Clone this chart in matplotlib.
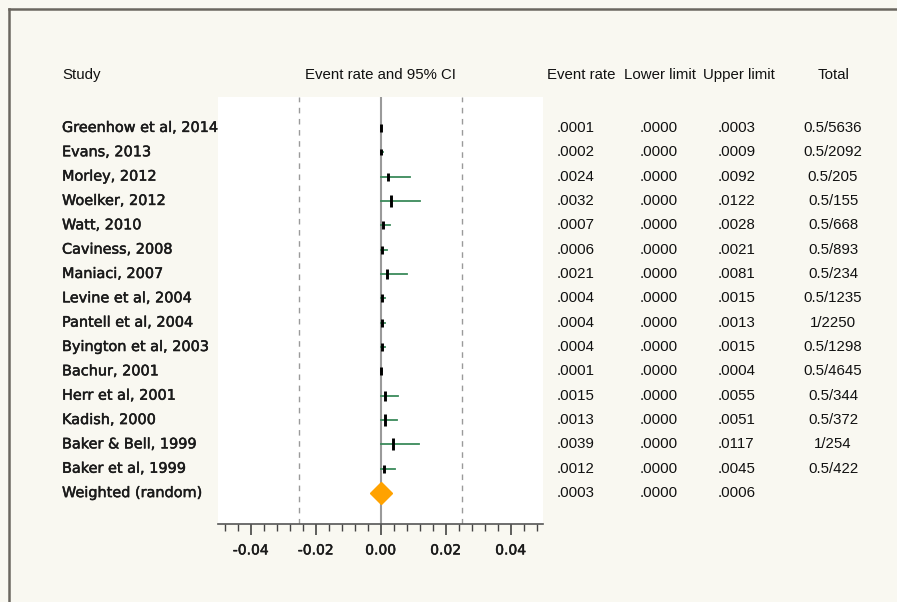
import matplotlib
matplotlib.use("Agg")
import matplotlib.pyplot as plt
import matplotlib.patheffects as pe
from matplotlib.ticker import MultipleLocator, FormatStrFormatter
from matplotlib.transforms import blended_transform_factory

plt.rcParams['axes.unicode_minus'] = False

# data
studies = ["Greenhow et al, 2014", "Evans, 2013", "Morley, 2012", "Woelker, 2012",
           "Watt, 2010", "Caviness, 2008", "Maniaci, 2007", "Levine et al, 2004",
           "Pantell et al, 2004", "Byington et al, 2003", "Bachur, 2001",
           "Herr et al, 2001", "Kadish, 2000", "Baker & Bell, 1999", "Baker et al, 1999"]
event_rate = [0.0001, 0.0002, 0.0024, 0.0032, 0.0007, 0.0006, 0.0021, 0.0004,
              0.0004, 0.0004, 0.0001, 0.0015, 0.0013, 0.0039, 0.0012]
lower = [0.0] * 15
upper = [0.0003, 0.0009, 0.0092, 0.0122, 0.0028, 0.0021, 0.0081, 0.0015,
         0.0013, 0.0015, 0.0004, 0.0055, 0.0051, 0.0117, 0.0045]
totals = ["0.5/5636", "0.5/2092", "0.5/205", "0.5/155", "0.5/668", "0.5/893",
          "0.5/234", "0.5/1235", "1/2250", "0.5/1298", "0.5/4645", "0.5/344",
          "0.5/372", "1/254", "0.5/422"]
pooled_label = "Weighted (random)"
pooled = (0.0003, 0.0000, 0.0006)

# box heights roughly follow study weight
box_h = [6, 5, 6, 8, 6, 6, 7, 6, 6, 6, 6, 7, 8, 8, 6]

bg = "#f9f8f1"
fig = plt.figure(figsize=(8.97, 6.02), dpi=100, facecolor=bg)

# frame lines at top and left like the screenshot
fig.add_artist(plt.Line2D([8.5/897, 8.5/897], [0, 1 - 8.5/602], color="#6b6760", lw=1.8))
fig.add_artist(plt.Line2D([8.5/897, 1], [1 - 8.5/602, 1 - 8.5/602], color="#6b6760", lw=1.8))

ax = fig.add_axes([218/897, 1 - 524/602, 325/897, 427/602])
ax.set_facecolor("white")
ax.set_xlim(-0.05, 0.05)
ax.set_ylim(16.27, -1.27)

n = len(studies)
ax.axvline(0, color="#9a9a9a", lw=1.5, zorder=1)
for x in (-0.025, 0.025):
    ax.axvline(x, color="#9a9a9a", lw=1, ls=(0, (4, 4)), zorder=1)

for i in range(n):
    ax.plot([lower[i], upper[i]], [i, i], color="#3a8a5a", lw=1.3, zorder=2)
    ax.plot(event_rate[i], i, marker="|", ms=box_h[i], mew=2.1, color="black", zorder=3)

ax.plot(pooled[0], n, marker="D", ms=11, color="#ffa200", mec="#ffa200", zorder=4)

for s in ("left", "top", "right"):
    ax.spines[s].set_visible(False)
ax.spines["bottom"].set_color("#555555")
ax.spines["bottom"].set_linewidth(1.2)
ax.set_yticks([])
ax.xaxis.set_major_locator(MultipleLocator(0.02))
ax.xaxis.set_major_formatter(FormatStrFormatter("%.2f"))
ax.set_xticks([-0.048 + 0.004 * k for k in range(25)], minor=True)
ax.tick_params(axis="x", which="major", length=8, width=1.2, color="#444444",
               pad=6, labelsize=10)
ax.tick_params(axis="x", which="minor", length=5, width=1, color="#444444")
thick = [pe.withStroke(linewidth=0.35, foreground="#1a1a1a")]
for lab in ax.get_xticklabels():
    lab.set_color("#1a1a1a")
    lab.set_path_effects(thick)

# header row
hy = 1 - 75/602
hfont = dict(family="Liberation Sans", fontsize=10.8, color="#111111", va="center")
fig.text(62/897, hy, "Study", ha="left", **hfont)
fig.text(380/897, hy, "Event rate and 95% CI", ha="center", **hfont)
fig.text(547/897, hy, "Event rate", ha="left", **hfont)
fig.text(624/897, hy, "Lower limit", ha="left", **hfont)
fig.text(703/897, hy, "Upper limit", ha="left", **hfont)
fig.text(834/897, hy, "Total", ha="center", **hfont)

tr = blended_transform_factory(fig.transFigure, ax.transData)
nfont = dict(family="Liberation Sans", fontsize=10.8, color="#111111", va="center")
sfont = dict(family="DejaVu Sans", fontsize=10.4, color="#1a1a1a", va="center",
             path_effects=thick)
for i in range(n):
    fig.text(62/897, i, studies[i], ha="left", transform=tr, **sfont)
    fig.text(557/897, i, ("%.4f" % event_rate[i])[1:], ha="left", transform=tr, **nfont)
    fig.text(640/897, i, ("%.4f" % lower[i])[1:], ha="left", transform=tr, **nfont)
    fig.text(718/897, i, ("%.4f" % upper[i])[1:], ha="left", transform=tr, **nfont)
    fig.text(833/897, i, totals[i], ha="center", transform=tr, **nfont)

fig.text(62/897, n, pooled_label, ha="left", transform=tr, **sfont)
for x, v in zip((557, 640, 718), pooled):
    fig.text(x/897, n, ("%.4f" % v)[1:], ha="left", transform=tr, **nfont)

fig.savefig("out.png", dpi=100, facecolor=bg)
